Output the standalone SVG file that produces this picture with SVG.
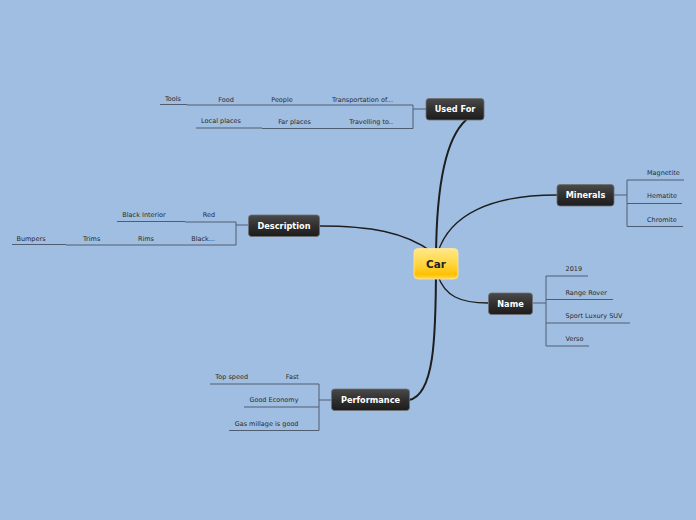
<svg xmlns="http://www.w3.org/2000/svg" width="696" height="520" viewBox="0 0 696 520">
<defs>
<linearGradient id="dark" x1="0" y1="0" x2="0" y2="1">
<stop offset="0" stop-color="#4a4a4a"/>
<stop offset="0.5" stop-color="#303030"/>
<stop offset="1" stop-color="#1c1c1c"/>
</linearGradient>
<linearGradient id="gold" x1="0" y1="0" x2="0" y2="1">
<stop offset="0" stop-color="#ffe88a"/>
<stop offset="0.55" stop-color="#ffd43a"/>
<stop offset="0.85" stop-color="#ffc000"/>
<stop offset="1" stop-color="#ffd860"/>
</linearGradient>
<style>
.topic{fill:url(#dark);stroke:#707070;stroke-width:0.8}
.tt{font-family:"DejaVu Sans",sans-serif;font-weight:bold;font-size:8.2px;fill:#ffffff;text-anchor:middle}
.sub{font-family:"DejaVu Sans",sans-serif;font-size:6.5px;fill:#2a2a2a}
.br{stroke:#4f5d73;stroke-width:1;fill:none}
.con{stroke:#1e1e1e;fill:none;stroke-linecap:round}
</style>
</defs>
<rect width="696" height="520" fill="#a0bee2"/>
<g id="connectors">
<path class="con" d="M436,262 C436,185 446,138 466,120" stroke-width="2"/>
<path class="con" d="M436,264 C436,340 434,395 409,400" stroke-width="2"/>
<path class="con" d="M320,226 C370,226 405,232 432,252" stroke-width="1.3"/>
<path class="con" d="M438,252 C450,215 490,195 557,195" stroke-width="1.3"/>
<path class="con" d="M438,276 C445,296 460,303 488,303" stroke-width="1.3"/>
<!-- Used For branches -->
<path class="br" d="M426,109 H413 M413,105 V128.5 M160,104.5 H187 M187,105 H413 M196,128 H262 M262,128.5 H413"/>
<!-- Description branches -->
<path class="br" d="M248,225 H236 M236,222 V245 M117,221.5 H185 M185,222 H236 M12,244.5 H66 M66,245 H236"/>
<!-- Minerals branches -->
<path class="br" d="M614,195 H627 M627,180 V226.5 M627,180 H684 M627,203.5 H682 M627,226.5 H683"/>
<!-- Name branches -->
<path class="br" d="M533,303 H546 M546,276 V346 M546,276 H588 M546,299.5 H613 M546,323 H630 M546,346 H589"/>
<!-- Performance branches -->
<path class="br" d="M331,400 H319 M319,384 V430.5 M210,384 H269 M269,384 H319 M244,407 H319 M229,430.5 H319"/>
</g>
<g id="car">
<rect x="414" y="248.5" width="44" height="30.5" rx="4" fill="url(#gold)" stroke="#ffe99a" stroke-width="0.8"/>
<text x="436" y="267.8" font-family="DejaVu Sans, sans-serif" font-weight="bold" font-size="10.5" fill="#222" text-anchor="middle">Car</text>
</g>
<g id="used-for">
<rect class="topic" x="426" y="98.5" width="58" height="21.5" rx="3"/>
<text class="tt" x="455" y="112">Used For</text>
</g>
<g id="minerals">
<rect class="topic" x="557" y="184.5" width="57" height="21.5" rx="3"/>
<text class="tt" x="585.5" y="198">Minerals</text>
</g>
<g id="name">
<rect class="topic" x="488.5" y="293" width="44" height="21.5" rx="3"/>
<text class="tt" x="510.5" y="306.8">Name</text>
</g>
<g id="description">
<rect class="topic" x="248.5" y="215" width="71" height="21.5" rx="3"/>
<text class="tt" x="284" y="228.8">Description</text>
</g>
<g id="performance">
<rect class="topic" x="331.5" y="389" width="78" height="21.5" rx="3"/>
<text class="tt" x="370.5" y="402.8">Performance</text>
</g>
<g id="used-for-subs">
<text class="sub" x="173" y="100.5" text-anchor="middle">Tools</text>
<text class="sub" x="226" y="101.5" text-anchor="middle">Food</text>
<text class="sub" x="282" y="101.5" text-anchor="middle">People</text>
<text class="sub" x="393" y="101.5" text-anchor="end">Transportation of...</text>
<text class="sub" x="221" y="123" text-anchor="middle">Local places</text>
<text class="sub" x="294.5" y="124" text-anchor="middle">Far places</text>
<text class="sub" x="393" y="124" text-anchor="end">Travelling to..</text>
</g>
<g id="description-subs">
<text class="sub" x="144" y="216.5" text-anchor="middle">Black Interior</text>
<text class="sub" x="209" y="216.5" text-anchor="middle">Red</text>
<text class="sub" x="31" y="240.5" text-anchor="middle">Bumpers</text>
<text class="sub" x="91.7" y="241" text-anchor="middle">Trims</text>
<text class="sub" x="146" y="241" text-anchor="middle">Rims</text>
<text class="sub" x="215" y="241" text-anchor="end">Black...</text>
</g>
<g id="minerals-subs">
<text class="sub" x="647" y="174.5">Magnetite</text>
<text class="sub" x="647" y="197.5">Hematite</text>
<text class="sub" x="647" y="221.5">Chromite</text>
</g>
<g id="name-subs">
<text class="sub" x="565.5" y="270.5">2019</text>
<text class="sub" x="565.5" y="294.5">Range Rover</text>
<text class="sub" x="565.5" y="317.5">Sport Luxury SUV</text>
<text class="sub" x="565.5" y="341">Verso</text>
</g>
<g id="performance-subs">
<text class="sub" x="231.7" y="378.5" text-anchor="middle">Top speed</text>
<text class="sub" x="292.3" y="378.5" text-anchor="middle">Fast</text>
<text class="sub" x="298.5" y="401.5" text-anchor="end">Good Economy</text>
<text class="sub" x="298.5" y="425.5" text-anchor="end">Gas millage is good</text>
</g>
</svg>
